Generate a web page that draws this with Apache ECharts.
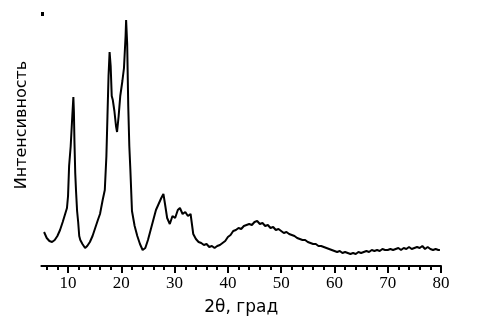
<!DOCTYPE html>
<html>
<head>
<meta charset="utf-8">
<script src="https://cdn.jsdelivr.net/npm/echarts@6/dist/echarts.min.js"></script>
<style>html,body{margin:0;padding:0;background:#fff;}#c{width:490px;height:325px;}</style>
</head>
<body>
<div id="c"></div>
<script>
// 2θ values (degrees)
var twoTheta = [5.5,6.0,6.5,7.0,7.5,8.0,8.5,9.0,9.4,9.8,10.0,10.2,10.5,10.8,11.0,11.1,11.2,11.35,11.5,11.7,11.9,12.1,12.3,
  12.7,13.2,13.6,14.1,14.6,15.1,15.6,16.0,16.5,16.9,17.2,17.4,17.6,17.8,18.0,18.2,18.4,18.7,19.0,19.2,19.5,19.8,20.2,20.5,20.8,20.9,21.1,21.3,21.5,21.7,22.0,22.5,23.0,23.5,24.0,24.5,25.0,25.5,26.0,26.5,27.0,27.5,27.9,28.2,28.6,29.1,29.6,30.1,30.6,31.0,31.5,32.0,32.5,33.0,
  33.5,34,34.5,35,35.5,36,36.5,37,37.5,38,38.5,39,39.5,40,40.5,41,41.5,42,42.5,43,43.5,44,44.5,45,45.5,46,46.5,47,47.5,48,48.5,49,49.5,50,50.5,51,51.5,52,52.5,53,53.5,54,54.5,55,55.5,56,56.5,57,57.5,58,58.5,59,59.5,60,60.5,61,61.5,62,62.5,63,63.5,64,64.5,65,65.5,66,66.5,67,67.5,68,68.5,69,69.5,70,70.5,71,71.5,72,72.5,73,73.5,74,74.5,75,75.5,76,76.5,77,77.5,78,78.5,79,79.5,79.8];
// Intensity (arbitrary units)
var intensity = [34,28,25,24,26,30,36,44,51,58,70,100,120,150,169,154,125,93,75,55,44,30,26,
  22,18,20,24,30,38,46,52,66,76,110,150,190,214,200,170,166,155,140,134,150,170,185,198,230,246,222,160,120,96,55,40,30,22,16,18,26,36,46,56,62,68,72,62,48,42,50,48,56,58,52,54,50,52,
  32,27,24,23,21,22,19,20,18,20,21,23,25,29,31,35,36,38,37,40,41,42,41,44,45,42,43,40,41,38,39,36,37,35,33,34,32,31,30,28,27,26,26,24,23,22,22,20,20,19,18,17,16,15,14,15,13,14,13,12,13,12,14,13,14,15,14,16,15,16,15,17,16,16,17,16,17,18,16,18,17,19,17,18,19,18,20,17,19,17,16,17,16,16];
// tick labels
var majorTicks = [10,20,30,40,50,60,70,80];
var minorTicks = [6,8,12,14,16,18,22,24,26,28,32,34,36,38,42,44,46,48,52,54,56,58,62,64,66,68,72,74,76,78];

var points = twoTheta.map(function(x,i){return [x, intensity[i]];});
var chart = echarts.init(document.getElementById('c'), null, {renderer:'canvas'});
chart.setOption({
  animation:false,
  backgroundColor:'#fff',
  grid:{left:41.4,right:49,top:16,bottom:59},
  xAxis:[{
    type:'value',min:5,max:80,
    axisLine:{lineStyle:{color:'#000',width:2}},
    axisTick:{customValues:majorTicks,length:7,lineStyle:{color:'#000',width:2}},
    axisLabel:{customValues:majorTicks,color:'#000',fontFamily:'Liberation Serif',fontSize:17,margin:9},
    splitLine:{show:false},
    name:'2θ, град',nameLocation:'middle',nameGap:33,
    nameTextStyle:{color:'#000',fontFamily:'DejaVu Sans',fontSize:17}
  },{
    type:'value',min:5,max:80,position:'bottom',
    axisLine:{show:false},
    axisTick:{customValues:minorTicks,length:4,lineStyle:{color:'#000',width:2}},
    axisLabel:{show:false},
    splitLine:{show:false}
  }],
  yAxis:{type:'value',min:0,max:250,show:false},
  graphic:[
    {type:'text',x:22,y:125,rotation:Math.PI/2,
     style:{text:'Интенсивность',fill:'#000',font:'16px "DejaVu Sans"',align:'center',verticalAlign:'middle'}},
    {type:'rect',shape:{x:41,y:12,width:3,height:4},style:{fill:'#000'}}
  ],
  series:[{
    type:'line',xAxisIndex:0,data:points,showSymbol:false,
    lineStyle:{color:'#000',width:2},smooth:false
  }]
});
</script>
</body>
</html>
